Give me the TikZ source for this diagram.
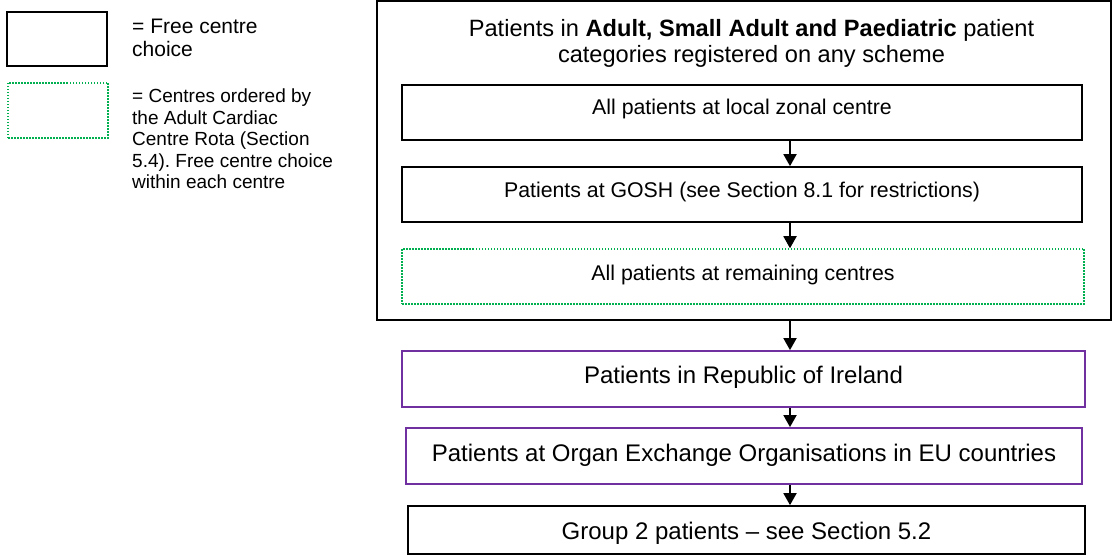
\documentclass[tikz,border=0pt]{standalone}
\usepackage{fontspec}
\setmainfont{Liberation Sans}
\usetikzlibrary{arrows.meta}
\definecolor{rotagreen}{HTML}{00B050}
\definecolor{roipurple}{HTML}{7030A0}
\frenchspacing
\begin{document}
\begin{tikzpicture}[x=1pt,y=-1pt,
  box/.style={draw,line width=1.7pt,inner sep=0pt,text height=16pt},
  rota/.style={draw=rotagreen,line width=1.5pt,dash pattern=on 1.5pt off 1.5pt,inner sep=0pt,text height=16pt},
  abroad/.style={draw=roipurple,line width=1.8pt,inner sep=0pt,text height=18pt},
  arr/.style={line width=1.8pt,-{Triangle[width=13pt,length=12pt]}},
  small/.style={font=\fontsize{21.3}{26}\selectfont},
  big/.style={font=\fontsize{24}{28}\selectfont},
  key/.style={font=\fontsize{19}{21.5}\selectfont,align=left,anchor=base west,inner sep=0pt}]
\useasboundingbox (0,0) rectangle (1112,556);
% legend (base of a key text = its last line)
\node[box,minimum width=100pt,minimum height=54pt] (keyfree) at (57,39) {};
\node[rota,minimum width=100pt,minimum height=55pt] (keyrota) at (58,110.5) {};
\node[key,font=\fontsize{21}{23}\selectfont] (keyfreetext) at (132,57) {= Free centre\\choice};
\node[key] (keyrotatext) at (132,189) {= Centres ordered by\\the Adult Cardiac\\Centre Rota (Section\\5.4). Free centre choice\\within each centre};

% patients registered on any scheme
\node[box,minimum width=734pt,minimum height=319pt] (outer) at (744,160.5) {};
\node[font=\fontsize{23.6}{26}\selectfont,align=center,anchor=base,inner sep=0pt] (head) at (751.5,63)
  {Patients in \textbf{Adult, Small Adult and Paediatric} patient\\categories registered on any scheme};
\node[box,small,minimum width=680pt,minimum height=55pt,text depth=11pt] (zonal) at (742,112.5) {All patients at local zonal centre};
\node[box,small,minimum width=680pt,minimum height=55pt,text depth=9pt] (gosh) at (742,194.5) {Patients at GOSH (see Section 8.1 for restrictions)};
\node[rota,small,minimum width=682pt,minimum height=55pt,text depth=7pt] (remaining) at (743,276.5) {All patients at remaining centres};

% outside the scheme
\node[abroad,big,minimum width=683pt,minimum height=56pt,text depth=10pt] (ireland) at (743.5,379) {Patients in Republic of Ireland};
\node[abroad,big,minimum width=676pt,minimum height=56pt,text depth=8pt] (eu) at (744,456) {Patients at Organ Exchange Organisations in EU countries};
\node[box,big,minimum width=677pt,minimum height=48pt,text height=18pt,text depth=0pt] (group) at (746.5,530) {Group 2 patients -- see Section 5.2};

\coordinate (spine) at (790,0);
\foreach \from/\to in {zonal/gosh, gosh/remaining, outer/ireland, ireland/eu, eu/group}
{
    \draw[arr] (\from.south -| spine) -- (\to.north -| spine);
}
\end{tikzpicture}
\end{document}
